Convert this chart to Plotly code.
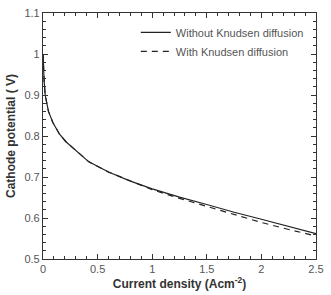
import plotly.graph_objects as go

j = [0.001, 0.005, 0.01, 0.02, 0.03, 0.05, 0.09, 0.15, 0.21, 0.3, 0.42, 0.6, 0.8, 1.0, 1.25, 1.5, 1.75, 2.0, 2.25, 2.5]
v_without = [1.0, 0.96, 0.935, 0.90, 0.885, 0.86, 0.833, 0.805, 0.786, 0.765, 0.737, 0.712, 0.69, 0.671, 0.651, 0.633, 0.614, 0.597, 0.58, 0.562]
v_with = [1.0, 0.96, 0.935, 0.90, 0.885, 0.86, 0.833, 0.805, 0.786, 0.765, 0.737, 0.712, 0.69, 0.669, 0.648, 0.628, 0.608, 0.589, 0.572, 0.556]

fig = go.Figure()
fig.add_trace(go.Scatter(x=j, y=v_without, mode="lines", name="Without Knudsen diffusion",
                         line=dict(color="#222222", width=1.2)))
fig.add_trace(go.Scatter(x=j, y=v_with, mode="lines", name="With Knudsen diffusion",
                         line=dict(color="#222222", width=1.2, dash="6px,5px")))

axis_common = dict(showline=True, linecolor="#333333", linewidth=1.2, mirror="ticks",
                   ticks="inside", ticklen=5, tickcolor="#333333", showgrid=False, zeroline=False,
                   tickfont=dict(family="Liberation Sans, Arial", size=11, color="#555555"))

fig.update_xaxes(range=[0, 2.5], dtick=0.5, tick0=0,
                 minor=dict(dtick=0.1, ticks="inside", ticklen=3, tickcolor="#333333"),
                 title=dict(text="<b>Current density (Acm<sup>-2</sup>)</b>", standoff=4,
                            font=dict(family="Liberation Sans, Arial", size=12, color="#333333")),
                 **axis_common)
fig.update_yaxes(range=[0.5, 1.1], dtick=0.1, tick0=0.5,
                 minor=dict(dtick=0.02, ticks="inside", ticklen=3, tickcolor="#333333"),
                 title=dict(text="<b>Cathode potential ( V)</b>", standoff=6,
                            font=dict(family="Liberation Sans, Arial", size=12, color="#333333")),
                 **axis_common)

fig.update_layout(width=331, height=295, margin=dict(l=43, r=7, t=7, b=31),
                  plot_bgcolor="white", paper_bgcolor="white",
                  legend=dict(x=0.34, y=0.98, xanchor="left", yanchor="top",
                              bgcolor="rgba(0,0,0,0)", tracegroupgap=0,
                              font=dict(family="Liberation Sans, Arial", size=11, color="#555555")))

fig.write_html("out.html")
